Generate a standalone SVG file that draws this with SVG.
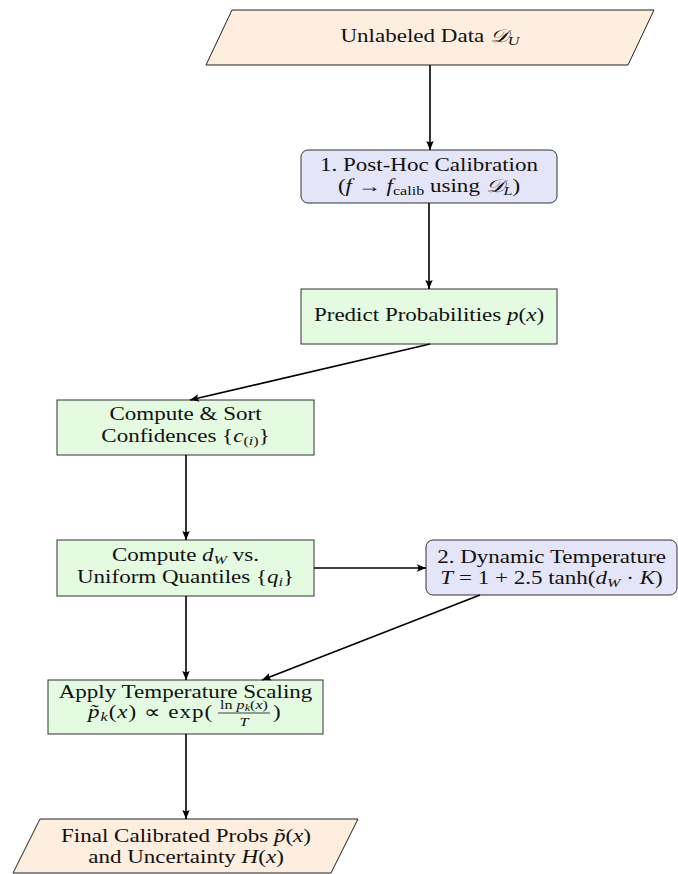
<svg xmlns="http://www.w3.org/2000/svg" width="678" height="874" viewBox="0 0 678 874">
  <defs>
    <marker id="arrow" markerUnits="userSpaceOnUse" markerWidth="10" markerHeight="8" refX="9" refY="4" orient="auto">
      <path d="M0,0.3 L9,4 L0,7.7 L1.6,4 Z" fill="#000"/>
    </marker>
    <style>
      .io { fill: #fdeedf; stroke: #222; stroke-width: 1; }
      .step { fill: #e4fbe2; stroke: #333; stroke-width: 1; }
      .key { fill: #e5e5fa; stroke: #333; stroke-width: 1; }
      .edge { fill: none; stroke: #000; stroke-width: 1.6; marker-end: url(#arrow); }
      text { font-family: "Liberation Serif", "Times New Roman", serif; font-size: 18px; fill: #111; }
      .c { text-anchor: middle; }
      .i { font-style: italic; }
      .s { font-size: 12.6px; }
      .ss { font-size: 9.5px; }
    </style>
  </defs>

  <!-- input data -->
  <g id="unlabeled-data">
    <polygon class="io" points="232,10 654,10 628,65 206,65"/>
    <text class="c" transform="matrix(1.28 0 0 1 430 42)">Unlabeled Data <tspan class="i">𝒟</tspan><tspan class="i s" dy="3">U</tspan></text>
  </g>

  <!-- step 1: post-hoc calibration -->
  <g id="post-hoc-calibration">
    <rect class="key" x="301" y="150" width="256" height="53" rx="7"/>
    <text class="c" transform="matrix(1.28 0 0 1 429 171)">1. Post-Hoc Calibration</text>
    <text class="c" transform="matrix(1.28 0 0 1 429 192)">(<tspan class="i">f</tspan> → <tspan class="i">f</tspan><tspan class="s" dy="3">calib</tspan><tspan dy="-3"> using </tspan><tspan class="i">𝒟</tspan><tspan class="i s" dy="3">L</tspan><tspan dy="-3">)</tspan></text>
  </g>

  <g id="predict-probabilities">
    <rect class="step" x="301" y="289" width="256" height="55"/>
    <text class="c" transform="matrix(1.28 0 0 1 429 321)">Predict Probabilities <tspan class="i">p</tspan>(<tspan class="i">x</tspan>)</text>
  </g>

  <g id="sort-confidences">
    <rect class="step" x="57" y="400" width="257" height="55"/>
    <text class="c" transform="matrix(1.28 0 0 1 185.5 420)">Compute &amp; Sort</text>
    <text class="c" transform="matrix(1.28 0 0 1 185.5 442)">Confidences {<tspan class="i">c</tspan><tspan class="s" dy="3">(<tspan class="i">i</tspan>)</tspan><tspan dy="-3">}</tspan></text>
  </g>

  <g id="wasserstein-distance">
    <rect class="step" x="57" y="540" width="257" height="56"/>
    <text class="c" transform="matrix(1.28 0 0 1 185.5 561)">Compute <tspan class="i">d</tspan><tspan class="i s" dy="3">W</tspan><tspan dy="-3"> vs.</tspan></text>
    <text class="c" transform="matrix(1.28 0 0 1 185.5 583)">Uniform Quantiles {<tspan class="i">q</tspan><tspan class="i s" dy="3">i</tspan><tspan dy="-3">}</tspan></text>
  </g>

  <!-- step 2: dynamic temperature -->
  <g id="dynamic-temperature">
    <rect class="key" x="426" y="540" width="251" height="55" rx="7"/>
    <text class="c" transform="matrix(1.28 0 0 1 551.5 563)">2. Dynamic Temperature</text>
    <text class="c" transform="matrix(1.28 0 0 1 551.5 584)"><tspan class="i">T</tspan> = 1 + 2.5 tanh(<tspan class="i">d</tspan><tspan class="i s" dy="3">W</tspan><tspan dy="-3"> · </tspan><tspan class="i">K</tspan>)</text>
  </g>

  <g id="temperature-scaling">
    <rect class="step" x="48" y="680" width="275" height="54"/>
    <text class="c" transform="matrix(1.28 0 0 1 185.5 698)">Apply Temperature Scaling</text>
    <!-- p~_k(x) ∝ exp( ln p_k(x) / T ) -->
    <text transform="matrix(1.28 0 0 1 88 718)" textLength="97" lengthAdjust="spacing"><tspan class="i">p̃</tspan><tspan class="i s" dy="3">k</tspan><tspan dy="-3">(</tspan><tspan class="i">x</tspan>)  ∝  exp(</text>
    <text class="c s" transform="matrix(1.28 0 0 1 244 709)">ln <tspan class="i">p</tspan><tspan class="i ss" dy="2">k</tspan><tspan dy="-2">(</tspan><tspan class="i">x</tspan>)</text>
    <line x1="218" y1="713" x2="270" y2="713" stroke="#111" stroke-width="0.8"/>
    <text class="c s i" transform="matrix(1.28 0 0 1 244 726)">T</text>
    <text transform="matrix(1.28 0 0 1 273 718)">)</text>
  </g>

  <!-- output -->
  <g id="calibrated-output">
    <polygon class="io" points="40,819 358,819 331,873 13,873"/>
    <text class="c" transform="matrix(1.28 0 0 1 186 842)">Final Calibrated Probs <tspan class="i">p̃</tspan>(<tspan class="i">x</tspan>)</text>
    <text class="c" transform="matrix(1.28 0 0 1 186 863)">and Uncertainty <tspan class="i">H</tspan>(<tspan class="i">x</tspan>)</text>
  </g>

  <g id="connectors">
    <line class="edge" x1="430" y1="65" x2="430" y2="150"/>
    <line class="edge" x1="429" y1="203" x2="429" y2="289"/>
    <line class="edge" x1="430" y1="344" x2="190" y2="400"/>
    <line class="edge" x1="186" y1="455" x2="186" y2="540"/>
    <line class="edge" x1="314" y1="568" x2="426" y2="568"/>
    <line class="edge" x1="186" y1="596" x2="186" y2="680"/>
    <line class="edge" x1="480" y1="595" x2="262" y2="680"/>
    <line class="edge" x1="186" y1="734" x2="186" y2="819"/>
  </g>
</svg>
